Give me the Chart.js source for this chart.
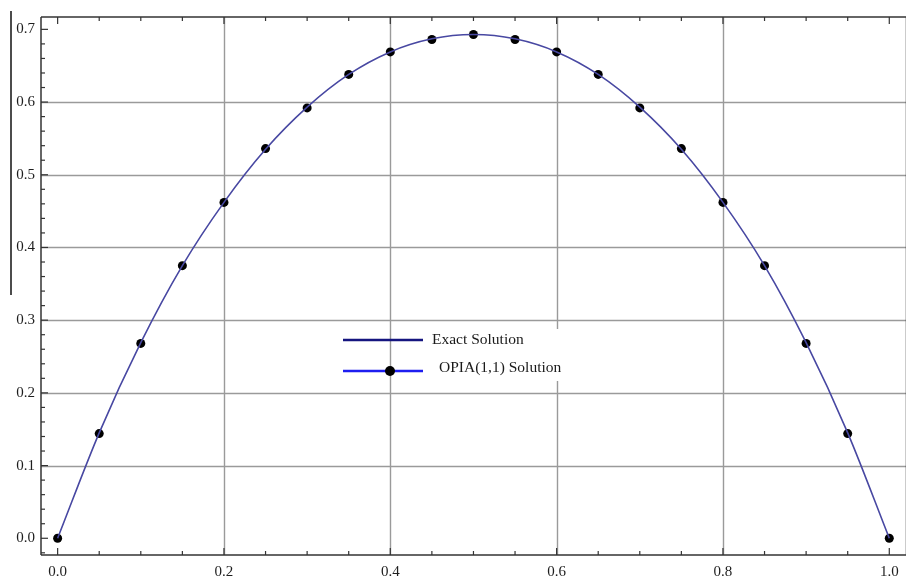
<!DOCTYPE html>
<html>
<head>
<meta charset="utf-8">
<script src="https://cdn.jsdelivr.net/npm/chart.js@4.4.1/dist/chart.umd.min.js"></script>
<style>
  html, body { margin: 0; padding: 0; background: #fff; overflow: hidden; }
  #wrap { width: 906px; height: 577px; overflow: hidden; }
</style>
</head>
<body>
<div id="wrap"><canvas id="chart" width="911" height="577"></canvas></div>
<script>
// values
const xValues = [0, 0.05, 0.1, 0.15, 0.2, 0.25, 0.3, 0.35, 0.4, 0.45, 0.5,
                 0.55, 0.6, 0.65, 0.7, 0.75, 0.8, 0.85, 0.9, 0.95, 1.0];
const exactValues = [0, 0.145, 0.269, 0.375, 0.462, 0.535, 0.593, 0.638, 0.669, 0.687, 0.693,
                     0.687, 0.669, 0.638, 0.593, 0.535, 0.462, 0.375, 0.269, 0.145, 0];
const opiaValues = [0, 0.144, 0.268, 0.375, 0.462, 0.536, 0.592, 0.638, 0.669, 0.686, 0.693,
                    0.686, 0.669, 0.638, 0.592, 0.536, 0.462, 0.375, 0.268, 0.144, 0];
const xTicks = [0, 0.2, 0.4, 0.6, 0.8, 1.0];
const yTicks = [0, 0.1, 0.2, 0.3, 0.4, 0.5, 0.6, 0.7];
const seriesNames = ['Exact Solution', 'OPIA(1,1) Solution'];

const labelFont = '"Liberation Serif", "Times New Roman", serif';

function line(ctx, x1, y1, x2, y2) {
  ctx.beginPath();
  ctx.moveTo(x1, y1);
  ctx.lineTo(x2, y2);
  ctx.stroke();
}

// Mathematica-ish frame: inner grid, frame with inward ticks, legend inside the plot
const framePlugin = {
  id: 'frame',
  beforeDatasetsDraw(chart) {
    const { ctx, chartArea: a, scales: { x, y } } = chart;
    ctx.save();
    ctx.strokeStyle = '#9a9a9a';
    ctx.lineWidth = 1.4;
    xTicks.slice(1, -1).forEach(v => {
      const px = Math.round(x.getPixelForValue(v)) + 0.5;
      line(ctx, px, a.top, px, a.bottom);
    });
    yTicks.slice(1, -1).forEach(v => {
      const py = Math.round(y.getPixelForValue(v)) + 0.5;
      line(ctx, a.left, py, a.right, py);
    });
    ctx.restore();
  },
  afterDatasetsDraw(chart) {
    const { ctx, chartArea: a, scales: { x, y } } = chart;
    ctx.save();
    ctx.strokeStyle = '#333';
    ctx.lineWidth = 1.5;
    line(ctx, a.left, a.top, a.left, a.bottom);
    line(ctx, a.left, a.top, a.right, a.top);
    line(ctx, a.left, a.bottom, a.right, a.bottom);
    line(ctx, a.right, a.top, a.right, a.bottom);

    // x ticks, top and bottom
    ctx.lineWidth = 1.2;
    for (let i = 0; i <= 20; i++) {
      const px = x.getPixelForValue(i * 0.05);
      const len = i % 4 === 0 ? 7 : 4;
      line(ctx, px, a.bottom, px, a.bottom - len);
      line(ctx, px, a.top, px, a.top + len);
    }
    // y ticks, left
    for (let i = -1; i <= 35; i++) {
      const py = y.getPixelForValue(i * 0.02);
      const len = i % 5 === 0 ? 7 : 4;
      line(ctx, a.left, py, a.left + len, py);
    }

    // legend
    ctx.fillStyle = '#fff';
    ctx.fillRect(428, 329, 142, 52);
    ctx.lineWidth = 2.5;
    ctx.strokeStyle = '#15157f';
    line(ctx, 343, 340, 423, 340);
    ctx.strokeStyle = '#1e1ef0';
    line(ctx, 343, 371, 423, 371);
    ctx.fillStyle = '#000';
    ctx.beginPath();
    ctx.arc(390, 371, 5, 0, Math.PI * 2);
    ctx.fill();
    ctx.fillStyle = '#1a1a1a';
    ctx.font = '15.5px ' + labelFont;
    ctx.textBaseline = 'middle';
    ctx.fillText(seriesNames[0], 432, 340);
    ctx.fillText(seriesNames[1], 439, 368);

    // stray bar on the left edge of the original image
    ctx.strokeStyle = '#111';
    ctx.lineWidth = 1.5;
    line(ctx, 11, 11, 11, 295);
    ctx.restore();
  }
};

new Chart(document.getElementById('chart'), {
  type: 'line',
  data: {
    datasets: [
      {
        label: seriesNames[0],
        data: xValues.map((v, i) => ({ x: v, y: exactValues[i] })),
        borderColor: '#4848a2',
        borderWidth: 1.6,
        pointRadius: 0,
        cubicInterpolationMode: 'monotone',
        fill: false
      },
      {
        label: seriesNames[1],
        data: xValues.map((v, i) => ({ x: v, y: opiaValues[i] })),
        showLine: false,
        pointRadius: 4.5,
        pointBackgroundColor: '#000',
        pointBorderColor: '#000',
        pointBorderWidth: 0
      }
    ]
  },
  options: {
    responsive: false,
    animation: false,
    devicePixelRatio: 1,
    layout: { padding: { top: 17, left: 0, right: 0, bottom: 0 } },
    plugins: { legend: { display: false }, tooltip: { enabled: false } },
    scales: {
      x: {
        type: 'linear',
        min: -0.02,
        max: 1.0207,
        grid: { display: false, drawTicks: false },
        border: { display: false },
        afterBuildTicks: s => { s.ticks = xTicks.map(v => ({ value: v })); },
        afterFit: s => { s.height = 22; },
        ticks: {
          padding: 8,
          color: '#1e1e1e',
          font: { family: labelFont, size: 15 },
          callback: v => v.toFixed(1)
        }
      },
      y: {
        min: -0.023,
        max: 0.717,
        grid: { display: false, drawTicks: false },
        border: { display: false },
        afterBuildTicks: s => { s.ticks = yTicks.map(v => ({ value: v })); },
        afterFit: s => { s.width = 41; },
        ticks: {
          padding: 6,
          color: '#1e1e1e',
          font: { family: labelFont, size: 15 },
          callback: v => v.toFixed(1)
        }
      }
    }
  },
  plugins: [framePlugin]
});
</script>
</body>
</html>
